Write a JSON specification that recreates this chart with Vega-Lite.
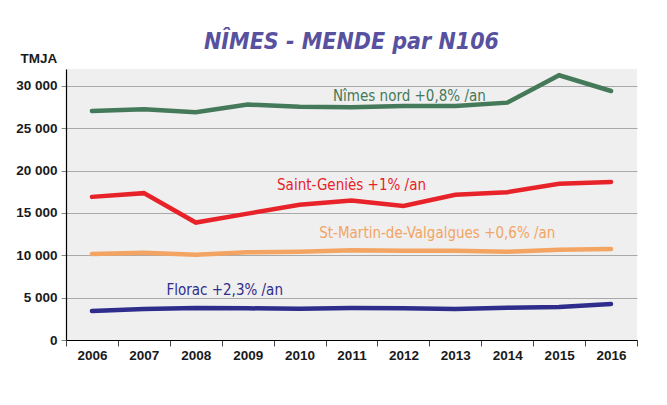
{
  "$schema": "https://vega.github.io/schema/vega-lite/v6.json",
  "width": 571,
  "height": 271,
  "autosize": {"type": "none"},
  "padding": {"left": 66, "top": 69, "right": 30, "bottom": 65},
  "background": "white",
  "config": {
    "locale": {"number": {"decimal": ",", "thousands": " ", "grouping": [3], "currency": ["", " €"]}},
    "view": {"fill": "#efefef", "stroke": null},
    "font": "Liberation Sans"
  },
  "title": {
    "text": "NÎMES - MENDE par N106",
    "font": "DejaVu Sans Condensed",
    "fontSize": 23,
    "fontStyle": "italic",
    "fontWeight": "bold",
    "color": "#57519f",
    "anchor": "middle",
    "frame": "group",
    "offset": -3
  },
  "datasets": {
    "trafic": [
      {"year": "2006", "serie": "Nîmes nord", "tmja": 27050},
      {"year": "2007", "serie": "Nîmes nord", "tmja": 27250},
      {"year": "2008", "serie": "Nîmes nord", "tmja": 26900},
      {"year": "2009", "serie": "Nîmes nord", "tmja": 27800},
      {"year": "2010", "serie": "Nîmes nord", "tmja": 27550},
      {"year": "2011", "serie": "Nîmes nord", "tmja": 27480},
      {"year": "2012", "serie": "Nîmes nord", "tmja": 27640},
      {"year": "2013", "serie": "Nîmes nord", "tmja": 27640},
      {"year": "2014", "serie": "Nîmes nord", "tmja": 28030},
      {"year": "2015", "serie": "Nîmes nord", "tmja": 31260},
      {"year": "2016", "serie": "Nîmes nord", "tmja": 29400},
      {"year": "2006", "serie": "Saint-Geniès", "tmja": 16900},
      {"year": "2007", "serie": "Saint-Geniès", "tmja": 17340},
      {"year": "2008", "serie": "Saint-Geniès", "tmja": 13870},
      {"year": "2009", "serie": "Saint-Geniès", "tmja": 14920},
      {"year": "2010", "serie": "Saint-Geniès", "tmja": 15980},
      {"year": "2011", "serie": "Saint-Geniès", "tmja": 16480},
      {"year": "2012", "serie": "Saint-Geniès", "tmja": 15820},
      {"year": "2013", "serie": "Saint-Geniès", "tmja": 17150},
      {"year": "2014", "serie": "Saint-Geniès", "tmja": 17460},
      {"year": "2015", "serie": "Saint-Geniès", "tmja": 18440},
      {"year": "2016", "serie": "Saint-Geniès", "tmja": 18670},
      {"year": "2006", "serie": "St-Martin-de-Valgalgues", "tmja": 10160},
      {"year": "2007", "serie": "St-Martin-de-Valgalgues", "tmja": 10310},
      {"year": "2008", "serie": "St-Martin-de-Valgalgues", "tmja": 10080},
      {"year": "2009", "serie": "St-Martin-de-Valgalgues", "tmja": 10350},
      {"year": "2010", "serie": "St-Martin-de-Valgalgues", "tmja": 10430},
      {"year": "2011", "serie": "St-Martin-de-Valgalgues", "tmja": 10590},
      {"year": "2012", "serie": "St-Martin-de-Valgalgues", "tmja": 10550},
      {"year": "2013", "serie": "St-Martin-de-Valgalgues", "tmja": 10550},
      {"year": "2014", "serie": "St-Martin-de-Valgalgues", "tmja": 10430},
      {"year": "2015", "serie": "St-Martin-de-Valgalgues", "tmja": 10670},
      {"year": "2016", "serie": "St-Martin-de-Valgalgues", "tmja": 10750},
      {"year": "2006", "serie": "Florac", "tmja": 3425},
      {"year": "2007", "serie": "Florac", "tmja": 3660},
      {"year": "2008", "serie": "Florac", "tmja": 3780},
      {"year": "2009", "serie": "Florac", "tmja": 3740},
      {"year": "2010", "serie": "Florac", "tmja": 3700},
      {"year": "2011", "serie": "Florac", "tmja": 3780},
      {"year": "2012", "serie": "Florac", "tmja": 3740},
      {"year": "2013", "serie": "Florac", "tmja": 3660},
      {"year": "2014", "serie": "Florac", "tmja": 3820},
      {"year": "2015", "serie": "Florac", "tmja": 3900},
      {"year": "2016", "serie": "Florac", "tmja": 4250}
    ]
  },
  "layer": [
    {
      "data": {"name": "trafic"},
      "mark": {"type": "line", "strokeWidth": 4.5, "strokeCap": "round", "strokeJoin": "miter"},
      "encoding": {
        "x": {
          "field": "year", "type": "ordinal",
          "scale": {"type": "band", "paddingInner": 0, "paddingOuter": 0},
          "bandPosition": 0.5,
          "axis": {
            "title": null, "labelAngle": 0, "labelFont": "Liberation Sans", "labelFontSize": 13.5,
            "labelFontWeight": "bold", "labelColor": "#1a1a1a", "tickBand": "extent",
            "domainColor": "#000000", "domainWidth": 1.2, "tickColor": "#444444", "tickSize": 6,
            "labelPadding": 2, "grid": false
          }
        },
        "y": {
          "field": "tmja", "type": "quantitative",
          "scale": {"domain": [0, 32000], "nice": false},
          "axis": {
            "values": [0, 5000, 10000, 15000, 20000, 25000, 30000],
            "format": ",d",
            "title": "TMJA", "titleAngle": 0, "titleAlign": "left", "titleBaseline": "middle",
            "titleX": -46, "titleY": -11, "titleFont": "Liberation Sans", "titleFontSize": 13.5,
            "titleFontWeight": "bold", "titleColor": "#1a1a1a",
            "labelFont": "Liberation Sans", "labelFontSize": 13.5, "labelFontWeight": "bold",
            "labelColor": "#1a1a1a", "labelPadding": 4,
            "grid": true, "gridColor": "#a9a9a9", "gridWidth": 1,
            "domainColor": "#000000", "domainWidth": 1.2, "tickColor": "#888888", "tickSize": 5
          }
        },
        "color": {
          "field": "serie", "type": "nominal", "legend": null,
          "scale": {
            "domain": ["Nîmes nord", "Saint-Geniès", "St-Martin-de-Valgalgues", "Florac"],
            "range": ["#44795a", "#e82229", "#f3a463", "#2e2d8c"]
          }
        }
      }
    },
    {
      "data": {"values": [{"label": "Nîmes nord +0,8% /an", "year": "2012", "tmja": 28800}]},
      "mark": {"type": "text", "font": "DejaVu Sans Condensed", "fontSize": 15, "color": "#44795a", "align": "center", "baseline": "middle", "dx": 6},
      "encoding": {"x": {"field": "year", "type": "ordinal", "bandPosition": 0.5}, "y": {"field": "tmja", "type": "quantitative"}, "text": {"field": "label"}}
    },
    {
      "data": {"values": [{"label": "Saint-Geniès +1% /an", "year": "2011", "tmja": 18300}]},
      "mark": {"type": "text", "font": "DejaVu Sans Condensed", "fontSize": 15, "color": "#e82229", "align": "center", "baseline": "middle", "dx": 0},
      "encoding": {"x": {"field": "year", "type": "ordinal", "bandPosition": 0.5}, "y": {"field": "tmja", "type": "quantitative"}, "text": {"field": "label"}}
    },
    {
      "data": {"values": [{"label": "St-Martin-de-Valgalgues +0,6% /an", "year": "2013", "tmja": 12630}]},
      "mark": {"type": "text", "font": "DejaVu Sans Condensed", "fontSize": 15, "color": "#f3a463", "align": "center", "baseline": "middle", "dx": -18},
      "encoding": {"x": {"field": "year", "type": "ordinal", "bandPosition": 0.5}, "y": {"field": "tmja", "type": "quantitative"}, "text": {"field": "label"}}
    },
    {
      "data": {"values": [{"label": "Florac +2,3% /an", "year": "2009", "tmja": 5900}]},
      "mark": {"type": "text", "font": "DejaVu Sans Condensed", "fontSize": 15, "color": "#2e2d8c", "align": "center", "baseline": "middle", "dx": -23},
      "encoding": {"x": {"field": "year", "type": "ordinal", "bandPosition": 0.5}, "y": {"field": "tmja", "type": "quantitative"}, "text": {"field": "label"}}
    }
  ]
}
